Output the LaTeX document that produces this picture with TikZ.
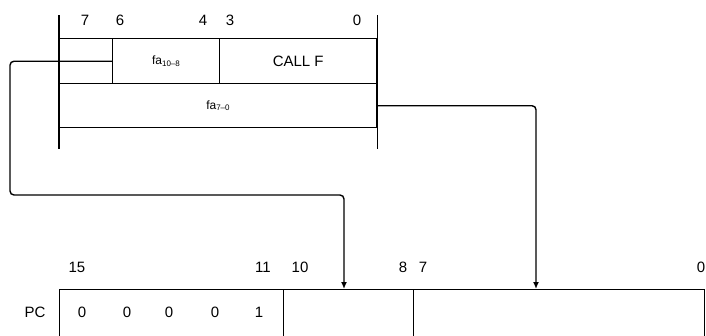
\documentclass[tikz,border=0pt]{standalone}
\usepackage{fontspec}
\setmainfont{Liberation Sans}
\usepackage{tikz}
\usetikzlibrary{arrows.meta}

\begin{document}
\begin{tikzpicture}[x=1pt, y=-1pt, line width=1.4pt,
		field_style/.style={rectangle,draw=black,inner sep=0pt,anchor=north west,font=\fontsize{15}{15}\selectfont},
		bit_style/.style={inner sep=0pt,font=\fontsize{15}{15}\selectfont},
		link_style/.style={draw=black,rounded corners=4pt,-{Latex[length=7pt,width=6pt]}}]

		\useasboundingbox (0,0) rectangle (706,335);

		\node[field_style, minimum width=53pt, minimum height=45pt] (b7) at (59,38) {};
		\node[field_style, minimum width=107pt, minimum height=45pt, font=\fontsize{12}{12}\selectfont] (fa108) at (112,38) {fa\textsubscript{10--8}};
		\node[field_style, minimum width=157pt, minimum height=45pt] (callf) at (219,38) {CALL F};
		\node[field_style, minimum width=317pt, minimum height=44pt, font=\fontsize{12}{12}\selectfont] (fa70) at (59,83) {fa\textsubscript{7--0}};
		\draw ([yshift=23pt]b7.north west) -- ([yshift=-21pt]fa70.south west);
		\draw ([yshift=23pt]callf.north east) -- ([yshift=-21pt]fa70.south east);

		\node[bit_style] (t7) at (85,20) {7};
		\node[bit_style] (t6) at (120,20) {6};
		\node[bit_style] (t4) at (203,20) {4};
		\node[bit_style] (t3) at (230,20) {3};
		\node[bit_style] (t0) at (357,20) {0};

		\node[field_style, minimum width=224pt, minimum height=60pt] (pchi) at (59,289) {};
		\node[field_style, minimum width=130pt, minimum height=60pt] (pcmid) at (283,289) {};
		\node[field_style, minimum width=291pt, minimum height=60pt] (pclo) at (413,289) {};

		\node[bit_style] (pc) at (35,312) {PC};
		\node[bit_style] (d15) at (82,312) {0};
		\node[bit_style] (d14) at (127,312) {0};
		\node[bit_style] (d13) at (169,312) {0};
		\node[bit_style] (d12) at (215,312) {0};
		\node[bit_style] (d11) at (259,312) {1};

		\node[bit_style] (s15) at (77,267) {15};
		\node[bit_style] (s11) at (263,267) {11};
		\node[bit_style] (s10) at (300,267) {10};
		\node[bit_style] (s8) at (403,267) {8};
		\node[bit_style] (s7) at (423,267) {7};
		\node[bit_style] (s0) at (701,267) {0};

		\draw[link_style] (fa108.west) -| (10,195) -| ([xshift=61pt]pcmid.north west);
		\draw[link_style] (fa70.east) -| ([xshift=123pt]pclo.north west);

\end{tikzpicture}
\end{document}
